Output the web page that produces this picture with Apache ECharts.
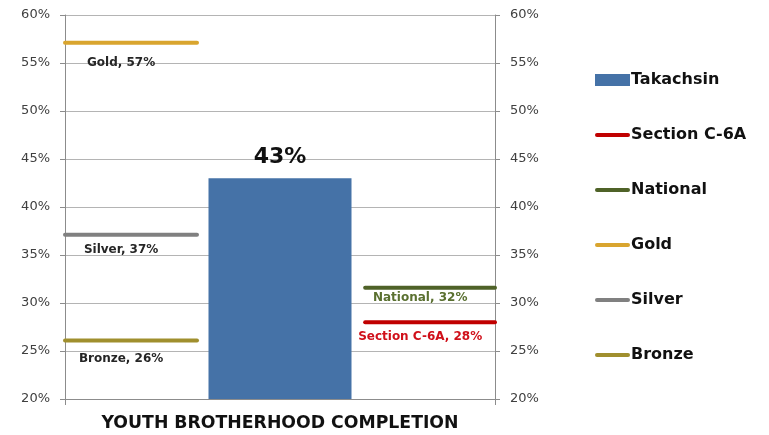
<!DOCTYPE html>
<html>
<head>
<meta charset="utf-8">
<script src="https://cdn.jsdelivr.net/npm/echarts@6/dist/echarts.min.js"></script>
<style>
  html, body { margin: 0; padding: 0; background: #fff; }
  #chart { width: 769px; height: 435px; }
</style>
</head>
<body>
<div id="chart"></div>
<script>
// data
const categories = ["YOUTH BROTHERHOOD COMPLETION"];
const barName = "Takachsin";
const barValues = [43];
const benchNames = ["Section C-6A", "National", "Gold", "Silver", "Bronze"];
const benchValues = [28, 31.6, 57.1, 37.1, 26.1];
const benchSide = ["right", "right", "left", "left", "left"];
const benchColors = ["#c00000", "#4f6228", "#d9a52f", "#808080", "#a08f2e"];
const benchLabelColors = ["#d0101a", "#5a7030", "#262626", "#262626", "#262626"];
const yMin = 20, yMax = 60, yStep = 5;

// layout: horizontal span of the benchmark lines (fraction of plot width)
const spans = { left: [0, 0.307], right: [0.698, 1] };
// layout: extra gap (px) between each line and its label
const labelGap = [9, 4, 14, 9, 12];

const FONT = "'DejaVu Sans', Verdana, sans-serif";
const LINE_ICON = "path://M2,0 L33,0 A2,2 0 0 1 33,4 L2,4 A2,2 0 0 1 2,0 Z";

const benchSeries = benchNames.map((name, i) => {
    const v = benchValues[i];
    const s = spans[benchSide[i]];
    return {
        name: name,
        type: "line",
        xAxisIndex: 1,
        yAxisIndex: 0,
        symbol: "none",
        lineStyle: { color: benchColors[i], width: 4, cap: "round" },
        itemStyle: { color: benchColors[i] },
        z: 3,
        data: [[s[0], v], [s[1], v]],
    };
});

// labels under each benchmark line (not in the legend)
const benchLabelSeries = {
    name: "labels",
    type: "scatter",
    xAxisIndex: 1,
    yAxisIndex: 0,
    symbolSize: 0,
    silent: true,
    itemStyle: { opacity: 1 },
    data: benchNames.map((name, i) => {
        const s = spans[benchSide[i]];
        return {
            value: [(s[0] + s[1]) / 2 - 0.023, benchValues[i]],
            label: {
                show: true,
                position: "bottom",
                distance: labelGap[i],
                formatter: name + ", " + Math.round(benchValues[i]) + "%",
                fontFamily: FONT,
                fontSize: 12,
                fontWeight: "bold",
                color: benchLabelColors[i],
                opacity: 1,
            },
        };
    }),
};

const yAxisBase = {
    type: "value",
    min: yMin,
    max: yMax,
    interval: yStep,
    axisLine: { show: true, lineStyle: { color: "#8c8c8c" } },
    axisTick: { show: true, length: 5, lineStyle: { color: "#8c8c8c" } },
    axisLabel: {
        formatter: "{value}%",
        fontFamily: FONT,
        fontSize: 13,
        color: "#404040",
        margin: 15,
    },
};

const chart = echarts.init(document.getElementById("chart"));
chart.setOption({
    animation: false,
    grid: { left: 65, right: 274, top: 15, bottom: 36 },
    legend: {
        orient: "vertical",
        left: 590,
        top: 67,
        itemWidth: 35,
        itemHeight: 12,
        itemGap: 39,
        symbolKeepAspect: true,
        data: [{ name: barName, icon: "rect" }].concat(
            benchNames.map((n) => ({ name: n, icon: LINE_ICON }))
        ),
        textStyle: {
            fontFamily: FONT,
            fontSize: 16,
            fontWeight: "bold",
            color: "#111",
            padding: [0, 0, 0, -4],
        },
    },
    xAxis: [
        {
            type: "category",
            data: categories,
            axisLine: { show: true, lineStyle: { color: "#8c8c8c" } },
            axisTick: { show: true, length: 6, lineStyle: { color: "#8c8c8c" } },
            axisLabel: {
                fontFamily: FONT,
                fontSize: 17.3,
                fontWeight: "bold",
                color: "#111",
                margin: 16,
            },
        },
        { type: "value", min: 0, max: 1, show: false },
    ],
    yAxis: [
        Object.assign({}, yAxisBase, {
            position: "left",
            splitLine: { show: true, lineStyle: { color: "#b4b4b4" } },
        }),
        Object.assign({}, yAxisBase, {
            position: "right",
            splitLine: { show: false },
        }),
    ],
    series: [
        {
            name: barName,
            type: "bar",
            xAxisIndex: 0,
            yAxisIndex: 0,
            barWidth: 143,
            itemStyle: { color: "#4572a7" },
            label: {
                show: true,
                position: "top",
                distance: 10,
                formatter: "{c}%",
                fontFamily: FONT,
                fontSize: 22,
                fontWeight: "bold",
                color: "#111",
            },
            data: barValues,
        },
    ].concat(benchSeries, [benchLabelSeries]),
});
</script>
</body>
</html>
